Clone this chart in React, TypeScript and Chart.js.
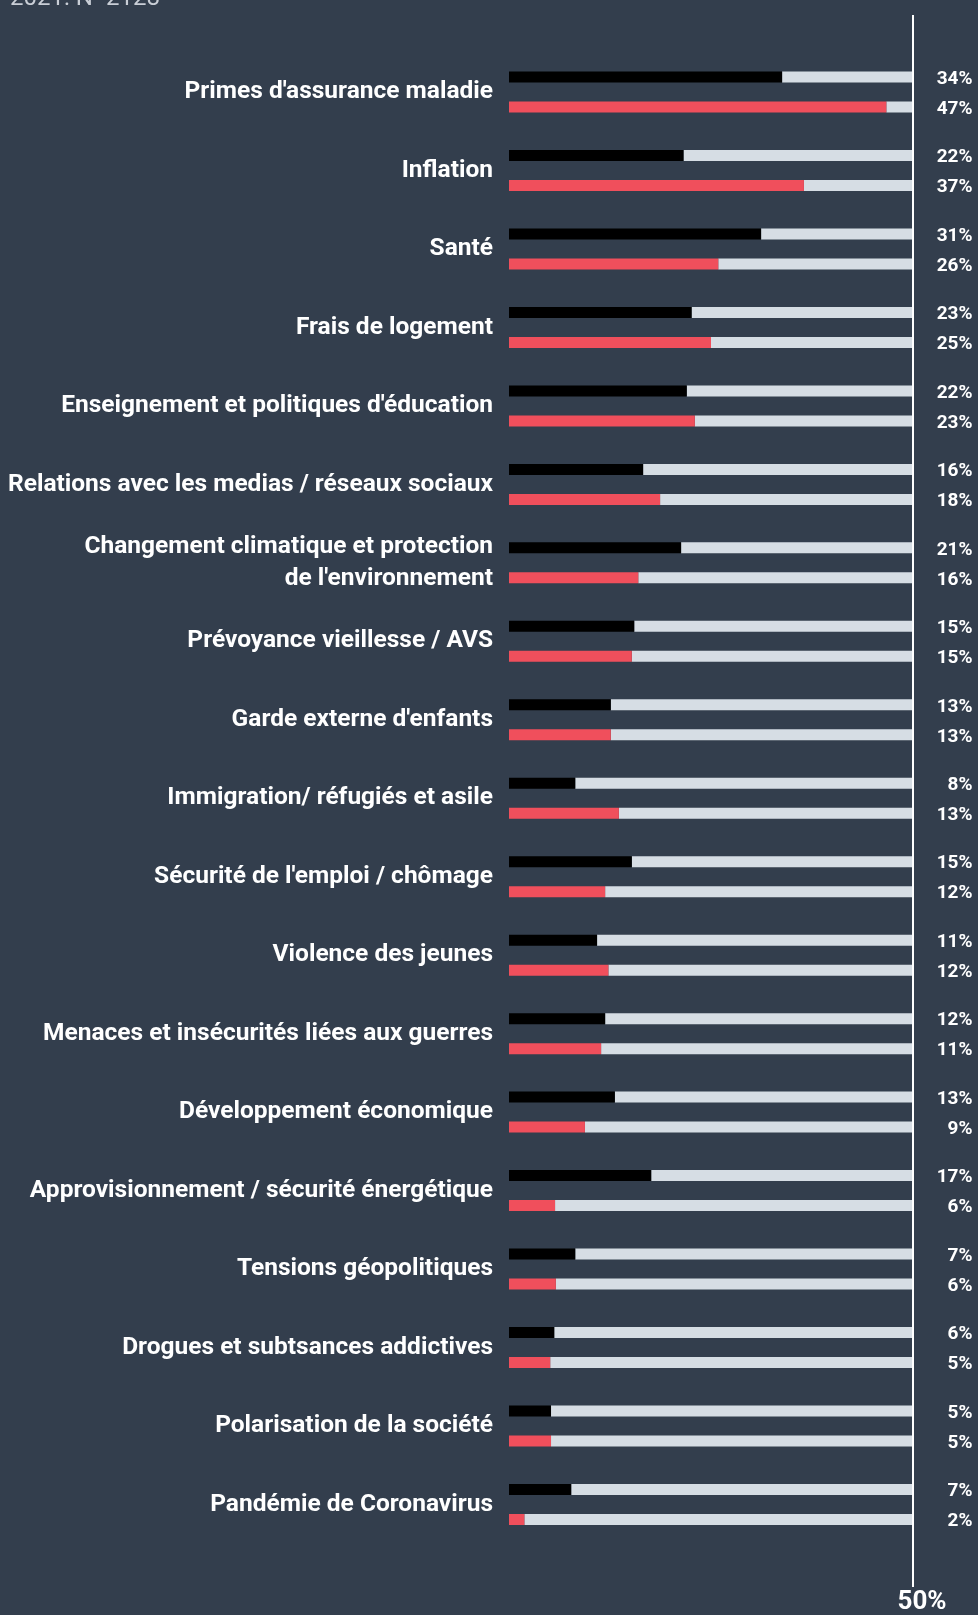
import React, { useEffect, useRef } from 'react';
import { Chart, registerables } from 'chart.js';

Chart.register(...registerables);

const categories: (string | string[])[] = [
  "Primes d'assurance maladie",
  'Inflation',
  'Santé',
  'Frais de logement',
  "Enseignement et politiques d'éducation",
  'Relations avec les medias / réseaux sociaux',
  ['Changement climatique et protection', "de l'environnement"],
  'Prévoyance vieillesse / AVS',
  "Garde externe d'enfants",
  'Immigration/ réfugiés et asile',
  "Sécurité de l'emploi / chômage",
  'Violence des jeunes',
  'Menaces et insécurités liées aux guerres',
  'Développement économique',
  'Approvisionnement / sécurité énergétique',
  'Tensions géopolitiques',
  'Drogues et subtsances addictives',
  'Polarisation de la société',
  'Pandémie de Coronavirus',
];

const valuesBlack = [33.8, 21.6, 31.2, 22.6, 22.0, 16.6, 21.3, 15.5, 12.6, 8.2, 15.2, 10.9, 11.9, 13.1, 17.6, 8.2, 5.6, 5.2, 7.7];
const valuesRed = [46.7, 36.5, 25.9, 25.0, 23.0, 18.7, 16.0, 15.2, 12.6, 13.6, 11.9, 12.3, 11.4, 9.4, 5.7, 5.8, 5.1, 5.2, 1.9];

const labelsBlack = ['34%', '22%', '31%', '23%', '22%', '16%', '21%', '15%', '13%', '8%', '15%', '11%', '12%', '13%', '17%', '7%', '6%', '5%', '7%'];
const labelsRed = ['47%', '37%', '26%', '25%', '23%', '18%', '16%', '15%', '13%', '13%', '12%', '12%', '11%', '9%', '6%', '6%', '5%', '5%', '2%'];

const axisMax = 50;
const axisMaxLabel = '50%';
const sampleNote = '2021: N=2128';

const BG = '#333e4d';
const RED = '#f04f5c';
const TRACK = '#d6dde4';

export default function App() {
  const canvasRef = useRef<HTMLCanvasElement | null>(null);

  useEffect(() => {
    document.body.style.margin = '0';
    document.body.style.background = BG;
    const canvas = canvasRef.current;
    if (!canvas) return;

    const valueLabelPlugin = {
      id: 'valueLabels',
      afterDatasetsDraw(chart: any) {
        const ctx = chart.ctx;
        ctx.save();
        ctx.fillStyle = '#ffffff';
        ctx.font = 'bold 19px Roboto';
        ctx.textAlign = 'right';
        ctx.textBaseline = 'middle';
        const sets = [labelsBlack, labelsRed];
        sets.forEach((labs, di) => {
          const meta = chart.getDatasetMeta(di);
          meta.data.forEach((el: any, i: number) => {
            ctx.fillText(labs[i], chart.width - 5.5, el.y + 2);
          });
        });
        ctx.restore();
      },
    };

    const linePlugin = {
      id: 'maxLine',
      afterDatasetsDraw(chart: any) {
        const ctx = chart.ctx;
        const x = chart.scales.x.getPixelForValue(axisMax);
        ctx.save();
        ctx.strokeStyle = '#ffffff';
        ctx.lineWidth = 2;
        ctx.beginPath();
        ctx.moveTo(x, 15);
        ctx.lineTo(x, 1587);
        ctx.stroke();
        ctx.font = '24px Roboto';
        ctx.fillStyle = '#c9ced6';
        ctx.textAlign = 'left';
        ctx.textBaseline = 'alphabetic';
        ctx.fillText(sampleNote, 10, 5);
        ctx.restore();
      },
    };

    const chart = new Chart(canvas, {
      type: 'bar',
      data: {
        labels: categories,
        datasets: [
          { label: '2021', data: valuesBlack, backgroundColor: '#000000', stack: 'a' },
          { label: '2024', data: valuesRed, backgroundColor: RED, stack: 'b' },
          { label: 'rest 2021', data: valuesBlack.map((v) => axisMax - v), backgroundColor: TRACK, stack: 'a' },
          { label: 'rest 2024', data: valuesRed.map((v) => axisMax - v), backgroundColor: TRACK, stack: 'b' },
        ],
      },
      options: {
        indexAxis: 'y',
        responsive: false,
        devicePixelRatio: 1,
        animation: false,
        categoryPercentage: 0.7646,
        barPercentage: 0.3667,
        layout: { padding: { top: 52.8, right: 65, bottom: 0, left: 0 } },
        plugins: {
          legend: { display: false },
          tooltip: { enabled: false },
        },
        scales: {
          x: {
            type: 'linear',
            position: 'bottom',
            stacked: true,
            min: 0,
            max: axisMax,
            grid: { display: false, drawTicks: false },
            border: { display: false },
            afterFit: (scale: any) => {
              scale.height = 71.3;
              scale.paddingLeft = 0;
              scale.paddingRight = 0;
            },
            ticks: {
              stepSize: axisMax,
              autoSkip: false,
              maxRotation: 0,
              padding: 43,
              labelOffset: 9,
              color: '#ffffff',
              font: { family: 'Roboto', size: 26, weight: 'bold' },
              callback: (v: any) => (v === axisMax ? axisMaxLabel : ''),
            },
          },
          y: {
            type: 'category',
            grid: { display: false, drawTicks: false },
            border: { display: false },
            afterFit: (scale: any) => {
              scale.width = 509;
              scale.paddingTop = 0;
              scale.paddingBottom = 0;
            },
            ticks: {
              padding: 16,
              autoSkip: false,
              color: '#ffffff',
              font: { family: 'Roboto', size: 24.5, weight: 'bold', lineHeight: 1.27 },
            },
          },
        },
      },
      plugins: [valueLabelPlugin, linePlugin],
    } as any);

    return () => {
      chart.destroy();
    };
  }, []);

  return (
    <div style={{ width: 978, height: 1615, background: BG, overflow: 'hidden' }}>
      <canvas ref={canvasRef} width={978} height={1615} style={{ display: 'block', width: 978, height: 1615 }} />
    </div>
  );
}
